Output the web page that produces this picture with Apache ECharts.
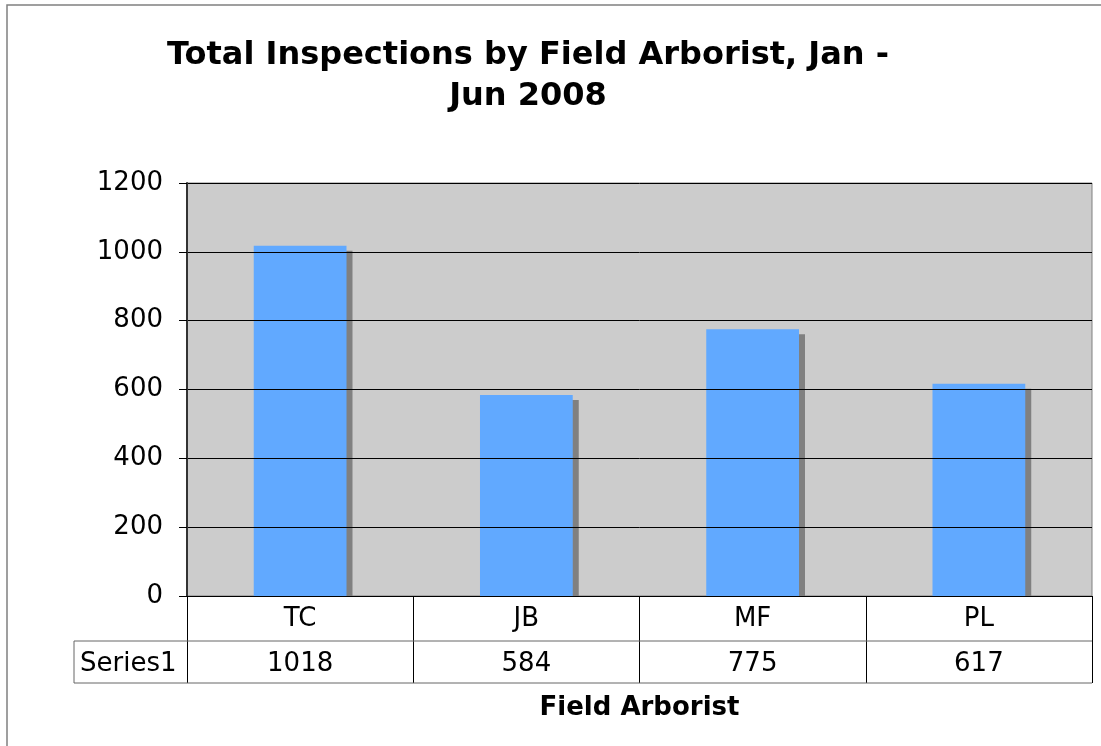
<!DOCTYPE html>
<html>
<head>
<meta charset="utf-8">
<script src="https://cdn.jsdelivr.net/npm/echarts@6/dist/echarts.min.js"></script>
<style>
  html, body { margin: 0; padding: 0; background: #fff; }
  #chart { width: 1101px; height: 746px; }
</style>
</head>
<body>
<div id="chart"></div>
<script>
// chart data
const categories = ["TC", "JB", "MF", "PL"];
const inspections = [1018, 584, 775, 617];
const seriesName = "Series1";
const yTicks = [0, 200, 400, 600, 800, 1000, 1200];

const font = "DejaVu Sans";
const myChart = echarts.init(document.getElementById("chart"));

const option = {
  backgroundColor: "#fff",
  animation: false,
  title: {
    text: "Total Inspections by Field Arborist, Jan -\nJun 2008",
    left: 523,
    top: 30,
    textAlign: "center",
    textStyle: {
      fontFamily: font,
      fontWeight: "bold",
      fontSize: 32,
      lineHeight: 41,
      color: "#000"
    }
  },
  grid: {
    left: 187,
    right: 9,
    top: 183,
    bottom: 150,
    show: true,
    backgroundColor: "#CCCCCC",
    borderColor: "#808080",
    borderWidth: 1
  },
  xAxis: {
    type: "category",
    data: categories,
    z: 5,
    axisLine: { lineStyle: { color: "#000", width: 1 } },
    axisTick: {
      show: true,
      interval: 0,
      length: 87,
      lineStyle: { color: "#000", width: 1 }
    },
    axisLabel: {
      interval: 0,
      margin: 10,
      fontFamily: font,
      fontSize: 26,
      lineHeight: 26,
      color: "#000"
    },
    name: "Field Arborist",
    nameLocation: "middle",
    nameGap: 99,
    nameTextStyle: {
      fontFamily: font,
      fontWeight: "bold",
      fontSize: 26,
      lineHeight: 26,
      color: "#000"
    }
  },
  yAxis: {
    type: "value",
    min: yTicks[0],
    max: yTicks[yTicks.length - 1],
    interval: yTicks[1] - yTicks[0],
    z: 5,
    axisLine: { show: true, lineStyle: { color: "#333", width: 2 } },
    axisTick: { show: true, length: 8, lineStyle: { color: "#000" } },
    axisLabel: {
      margin: 24,
      fontFamily: font,
      fontSize: 26,
      color: "#000",
      formatter: (v) => String(v)
    },
    splitLine: { lineStyle: { color: "#000", width: 1 } }
  },
  series: [
    {
      name: seriesName,
      type: "bar",
      data: inspections,
      barWidth: "41%",
      itemStyle: {
        color: "#61A9FF",
        shadowColor: "#808080",
        shadowOffsetX: 6,
        shadowOffsetY: 5,
        shadowBlur: 0
      },
      label: {
        show: true,
        position: "bottom",
        distance: 55,
        fontFamily: font,
        fontSize: 26,
        lineHeight: 26,
        color: "#000"
      }
    }
  ],
  graphic: [
    // outer frame
    {
      type: "rect",
      shape: { x: 7, y: 5, width: 1200, height: 900 },
      style: { fill: null, stroke: "#808080", lineWidth: 1.5 },
      z: 1
    },
    // hide shadow spilling below the axis
    {
      type: "rect",
      shape: { x: 188, y: 597, width: 903, height: 6 },
      style: { fill: "#fff" },
      z: 4
    },
    // data table lines
    {
      type: "line",
      shape: { x1: 74, y1: 641, x2: 1092, y2: 641 },
      style: { stroke: "#666", lineWidth: 1 },
      z: 6
    },
    {
      type: "line",
      shape: { x1: 74, y1: 683, x2: 1092, y2: 683 },
      style: { stroke: "#666", lineWidth: 1 },
      z: 6
    },
    {
      type: "line",
      shape: { x1: 74, y1: 641, x2: 74, y2: 683 },
      style: { stroke: "#666", lineWidth: 1 },
      z: 6
    },
    {
      type: "text",
      x: 80,
      y: 664,
      style: {
        text: seriesName,
        fontFamily: font,
        fontSize: 26,
        fill: "#000",
        textAlign: "left",
        textVerticalAlign: "middle"
      },
      z: 6
    }
  ]
};

option && myChart.setOption(option);
</script>
</body>
</html>
